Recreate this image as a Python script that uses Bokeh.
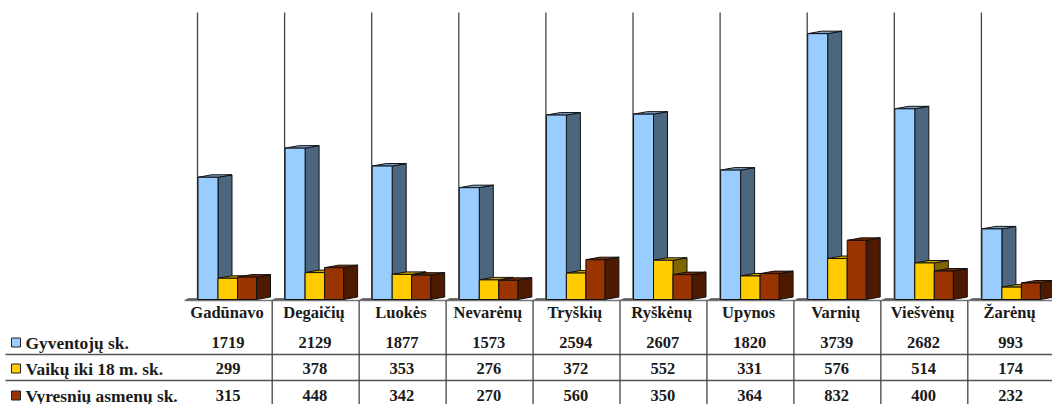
from bokeh.plotting import figure
from bokeh.models import Range1d
from bokeh.core.properties import value
from bokeh.embed import file_html
from bokeh.resources import INLINE

categories = ["Gadūnavo", "Degaičių", "Luokės", "Nevarėnų", "Tryškių",
              "Ryškėnų", "Upynos", "Varnių", "Viešvėnų", "Žarėnų"]
gyventoju = [1719, 2129, 1877, 1573, 2594, 2607, 1820, 3739, 2682, 993]
vaiku = [299, 378, 353, 276, 372, 552, 331, 576, 514, 174]
vyresniu = [315, 448, 342, 270, 560, 350, 364, 832, 400, 232]
series_names = ["Gyventojų sk.", "Vaikų iki 18 m. sk.", "Vyresnių asmenų sk."]

# face, side, top colours of each series
palette = [("#99CCFF", "#4D6680", "#7BA3CC"),
           ("#FFCC00", "#806600", "#CCA300"),
           ("#993300", "#4D1A00", "#7A2900")]

W, H = 1052, 404
PX_PER_COL = 87.1
PX_PER_VAL = 0.0711
GRID0 = 197.0
BASE = 299.0
FONT = value("Liberation Serif")


def X(px):
    return (px - GRID0) / PX_PER_COL


def Y(py):
    return (BASE - py) / PX_PER_VAL


p = figure(width=W, height=H, output_backend="svg", toolbar_location=None,
           x_range=Range1d(X(0), X(W)), y_range=Range1d(Y(H), Y(0)),
           min_border=0, background_fill_color="white", border_fill_color="white",
           outline_line_color=None)
p.axis.visible = False
p.grid.visible = False

n = len(categories)
idx = list(range(n))

# vertical lines above the floor
p.segment(x0=idx, x1=idx, y0=[Y(12)] * n, y1=[Y(BASE)] * n, line_color="#444444", line_width=1.3)

# floor slivers and baseline
fw = 12 / PX_PER_COL
p.patches(xs=[[i - fw, i - fw + 3 / PX_PER_COL, i + 0.3 / PX_PER_COL, i] for i in idx],
          ys=[[Y(299.5), Y(298), Y(298), Y(299.5)] for _ in idx],
          fill_color="#555555", line_color="#444444", line_width=0.5)
p.segment(x0=[X(184)], x1=[X(1052)], y0=[Y(300)], y1=[Y(300)], line_color="#777777", line_width=1.5)

# 3D bars
lefts = [0.5, 20.5, 40.0]
rights = [20.5, 40.0, 59.0]
DX = 14 / PX_PER_COL
DY = 2.5 / PX_PER_VAL
for vals, (face, side, top), l, r in zip([gyventoju, vaiku, vyresniu], palette, lefts, rights):
    xl = [i + l / PX_PER_COL for i in idx]
    xr = [i + r / PX_PER_COL for i in idx]
    p.patches(xs=[[a, a + DX, a + DX, a] for a in xr],
              ys=[[0, DY, v + DY, v] for v in vals],
              fill_color=side, line_color="#111111", line_width=1)
    p.patches(xs=[[a, b, b + DX, a + DX] for a, b in zip(xl, xr)],
              ys=[[v, v, v + DY, v + DY] for v in vals],
              fill_color=top, line_color="#111111", line_width=1)
    p.quad(left=xl, right=xr, bottom=[0] * n, top=vals,
           fill_color=face, line_color="#111111", line_width=1)

# table
COL_X0 = 271.7
COL_W = 86.95
CENTER0 = 226.5
label_y, row_y, rule_y = 312, [342, 368, 395], [354, 380]
bottom_y = 404

p.segment(x0=[X(5)] * 2, x1=[X(1052)] * 2, y0=[Y(y) for y in rule_y], y1=[Y(y) for y in rule_y],
          line_color="#555555", line_width=1.5)
cols = [X(COL_X0 + COL_W * i) for i in range(n - 1)]
p.segment(x0=cols, x1=cols, y0=[Y(300)] * (n - 1), y1=[Y(bottom_y)] * (n - 1),
          line_color="#444444", line_width=1.3)

cx = [X(CENTER0 + COL_W * i) for i in idx]
p.text(x=cx, y=[Y(label_y)] * n, text=categories, text_font=FONT, text_font_style="bold",
       text_font_size="16.5px", text_align="center", text_baseline="middle", text_color="#1a1a1a")
for vals, ry in zip([gyventoju, vaiku, vyresniu], row_y):
    p.text(x=[c + 1 / PX_PER_COL for c in cx], y=[Y(ry)] * n, text=[str(v) for v in vals], text_font=FONT,
           text_font_style="bold", text_font_size="16.5px", text_align="center", text_baseline="middle",
           text_color="#1a1a1a")

# legend column
for name, (face, _, _), ry in zip(series_names, palette, row_y):
    p.quad(left=[X(11)], right=[X(20)], bottom=[Y(ry + 4.5)], top=[Y(ry - 4.5)],
           fill_color=face, line_color="#222222", line_width=1)
    p.text(x=[X(25)], y=[Y(ry)], text=[name], text_font=FONT, text_font_style="bold",
           text_font_size="17.4px", text_align="left", text_baseline="middle", text_color="#1a1a1a")

open("out.html", "w").write(file_html(p, INLINE))
